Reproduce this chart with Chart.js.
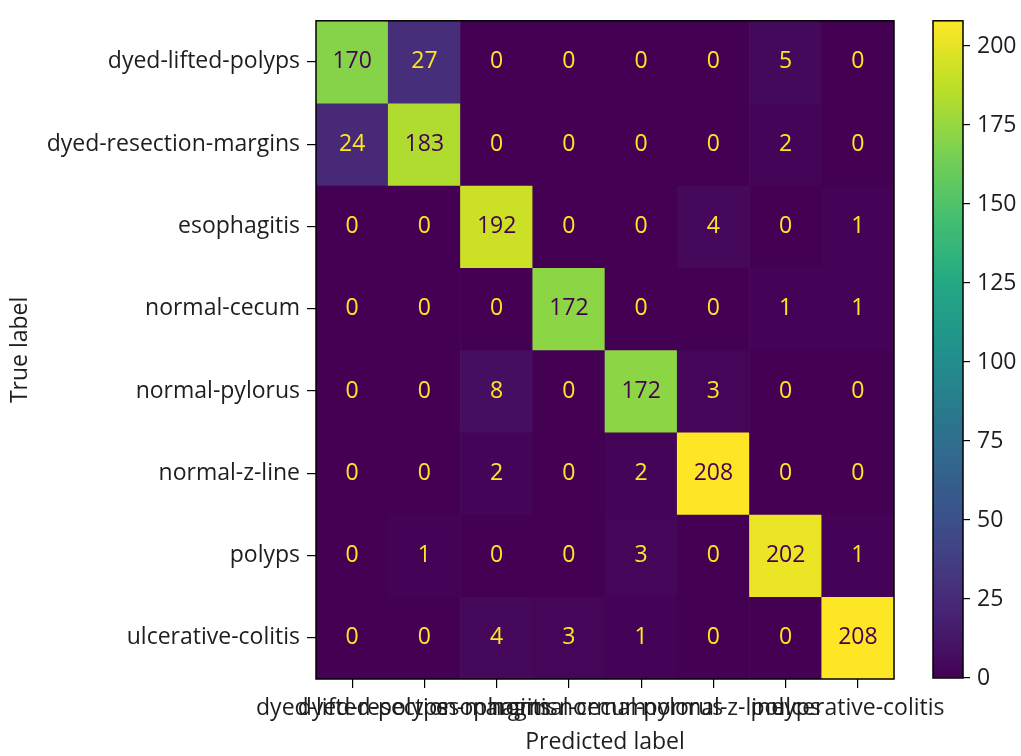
<!DOCTYPE html>
<html>
<head>
<meta charset="utf-8">
<script src="https://cdn.jsdelivr.net/npm/chart.js@4.4.1/dist/chart.umd.min.js"></script>
<style>
  html, body { margin: 0; padding: 0; background: #ffffff; }
  #wrap { position: relative; width: 1021px; height: 756px; }
  canvas { position: absolute; left: 0; top: 0; }
</style>
</head>
<body>
<div id="wrap">
  <canvas id="matrix" width="1021" height="756"></canvas>
  <canvas id="colorbar" width="1021" height="756"></canvas>
</div>
<script>
// Class names (shared by true and predicted axes)
const classNames = [
  'dyed-lifted-polyps', 'dyed-resection-margins', 'esophagitis', 'normal-cecum',
  'normal-pylorus', 'normal-z-line', 'polyps', 'ulcerative-colitis'
];

// Confusion counts, one array per true label (columns = predicted label)
const rowDyedLiftedPolyps     = [170, 27, 0, 0, 0, 0, 5, 0];
const rowDyedResectionMargins = [24, 183, 0, 0, 0, 0, 2, 0];
const rowEsophagitis          = [0, 0, 192, 0, 0, 4, 0, 1];
const rowNormalCecum          = [0, 0, 0, 172, 0, 0, 1, 1];
const rowNormalPylorus        = [0, 0, 8, 0, 172, 3, 0, 0];
const rowNormalZLine          = [0, 0, 2, 0, 2, 208, 0, 0];
const rowPolyps               = [0, 1, 0, 0, 3, 0, 202, 1];
const rowUlcerativeColitis    = [0, 0, 4, 3, 1, 0, 0, 208];

const countRows = [
  rowDyedLiftedPolyps, rowDyedResectionMargins, rowEsophagitis, rowNormalCecum,
  rowNormalPylorus, rowNormalZLine, rowPolyps, rowUlcerativeColitis
];

// Colour bar tick values
const colorbarTicks = [0, 25, 50, 75, 100, 125, 150, 175, 200];

const colorMin = 0;
const colorMax = Math.max(...countRows.flat());

// Viridis colour map stops
const viridisStops = [
  '#440154', '#482475', '#414487', '#355f8d', '#2a788e', '#21918c',
  '#22a884', '#44bf70', '#7ad151', '#bddf26', '#fde725'
];
function hexToRgb(h) {
  return [parseInt(h.slice(1, 3), 16), parseInt(h.slice(3, 5), 16), parseInt(h.slice(5, 7), 16)];
}
function viridis(t) {
  t = Math.min(1, Math.max(0, t));
  const pos = t * (viridisStops.length - 1);
  const i = Math.min(Math.floor(pos), viridisStops.length - 2);
  const f = pos - i;
  const a = hexToRgb(viridisStops[i]);
  const b = hexToRgb(viridisStops[i + 1]);
  const c = a.map((v, k) => Math.round(v + (b[k] - v) * f));
  return `rgb(${c[0]},${c[1]},${c[2]})`;
}
const norm = v => (v - colorMin) / (colorMax - colorMin);

const FONT = { family: '"Open Sans", "Noto Sans", sans-serif', size: 23 };
const TEXT_COLOR = '#1e1e1e';

// Each true-label row is one dataset of floating bars spanning [row, row + 1]
const datasets = countRows.map((row, i) => ({
  label: classNames[i],
  data: row.map(() => [i, i + 1]),
  counts: row,
  backgroundColor: row.map(v => viridis(norm(v))),
  borderWidth: 0,
  barPercentage: 1,
  categoryPercentage: 1,
  grouped: false
}));

// Writes each count at the centre of its cell
const cellText = {
  id: 'cellText',
  afterDatasetsDraw(chart) {
    const ctx = chart.ctx;
    const threshold = (colorMax + colorMin) / 2;
    ctx.save();
    ctx.font = `${FONT.size}px ${FONT.family}`;
    ctx.textAlign = 'center';
    ctx.textBaseline = 'middle';
    chart.data.datasets.forEach((ds, di) => {
      const meta = chart.getDatasetMeta(di);
      meta.data.forEach((el, j) => {
        const v = ds.counts[j];
        ctx.fillStyle = v > threshold ? viridis(0) : viridis(1);
        ctx.fillText(String(v), el.x, (el.y + el.base) / 2);
      });
    });
    ctx.restore();
  }
};

// Black frame around a plot area
const frame = {
  id: 'frame',
  afterDraw(chart) {
    const a = chart.chartArea;
    const ctx = chart.ctx;
    ctx.save();
    ctx.strokeStyle = '#000000';
    ctx.lineWidth = 1.5;
    ctx.strokeRect(a.left, a.top, a.right - a.left, a.bottom - a.top);
    ctx.restore();
  }
};

new Chart(document.getElementById('matrix'), {
  type: 'bar',
  data: { labels: classNames, datasets },
  plugins: [cellText, frame],
  options: {
    responsive: false,
    animation: false,
    devicePixelRatio: 1,
    layout: { padding: { top: 14, right: 127, left: 0, bottom: 0 } },
    plugins: { legend: { display: false }, tooltip: { enabled: false } },
    scales: {
      x: {
        type: 'category',
        offset: true,
        afterFit(scale) { scale.height = 77; },
        grid: { display: true, offset: false, drawOnChartArea: false, drawTicks: true, tickLength: 9, color: '#000000', lineWidth: 1.2 },
        border: { display: false },
        ticks: { autoSkip: false, maxRotation: 0, minRotation: 0, padding: 7, color: TEXT_COLOR, font: FONT },
        title: { display: true, text: 'Predicted label', color: TEXT_COLOR, font: FONT, padding: { top: 0, bottom: 0 } }
      },
      y: {
        type: 'linear',
        min: 0,
        max: classNames.length,
        reverse: true,
        afterFit(scale) { scale.width = 316; },
        afterBuildTicks(scale) {
          scale.ticks = classNames.map((_, i) => ({ value: i + 0.5 }));
        },
        grid: { display: true, drawOnChartArea: false, drawTicks: true, tickLength: 9, color: '#000000', lineWidth: 1.2 },
        border: { display: false },
        ticks: {
          padding: 7,
          color: TEXT_COLOR,
          font: FONT,
          callback: v => classNames[Math.floor(v)]
        },
        title: { display: true, text: 'True label', color: TEXT_COLOR, font: FONT, padding: { top: 7, bottom: 0 } }
      }
    }
  }
});

// Colour bar: one floating bar over the full count range, filled with the colour map
new Chart(document.getElementById('colorbar'), {
  type: 'bar',
  data: {
    labels: ['count'],
    datasets: [{
      data: [[colorMin, colorMax]],
      borderWidth: 0,
      barPercentage: 1,
      categoryPercentage: 1,
      backgroundColor(context) {
        const { chart } = context;
        const area = chart.chartArea;
        if (!area) return viridis(0.5);
        const g = chart.ctx.createLinearGradient(0, area.bottom, 0, area.top);
        for (let k = 0; k <= 20; k++) g.addColorStop(k / 20, viridis(k / 20));
        return g;
      }
    }]
  },
  plugins: [frame],
  options: {
    responsive: false,
    animation: false,
    devicePixelRatio: 1,
    layout: { padding: { top: 14, right: 0, left: 933, bottom: 78 } },
    plugins: { legend: { display: false }, tooltip: { enabled: false } },
    scales: {
      x: { display: false, offset: true },
      y: {
        position: 'right',
        min: colorMin,
        max: colorMax,
        afterFit(scale) { scale.width = 58; },
        afterBuildTicks(scale) {
          scale.ticks = colorbarTicks.map(v => ({ value: v }));
        },
        grid: { display: true, drawOnChartArea: false, drawTicks: true, tickLength: 7, color: '#000000', lineWidth: 1.2 },
        border: { display: false },
        ticks: { padding: 7, color: TEXT_COLOR, font: FONT }
      }
    }
  }
});
</script>
</body>
</html>
